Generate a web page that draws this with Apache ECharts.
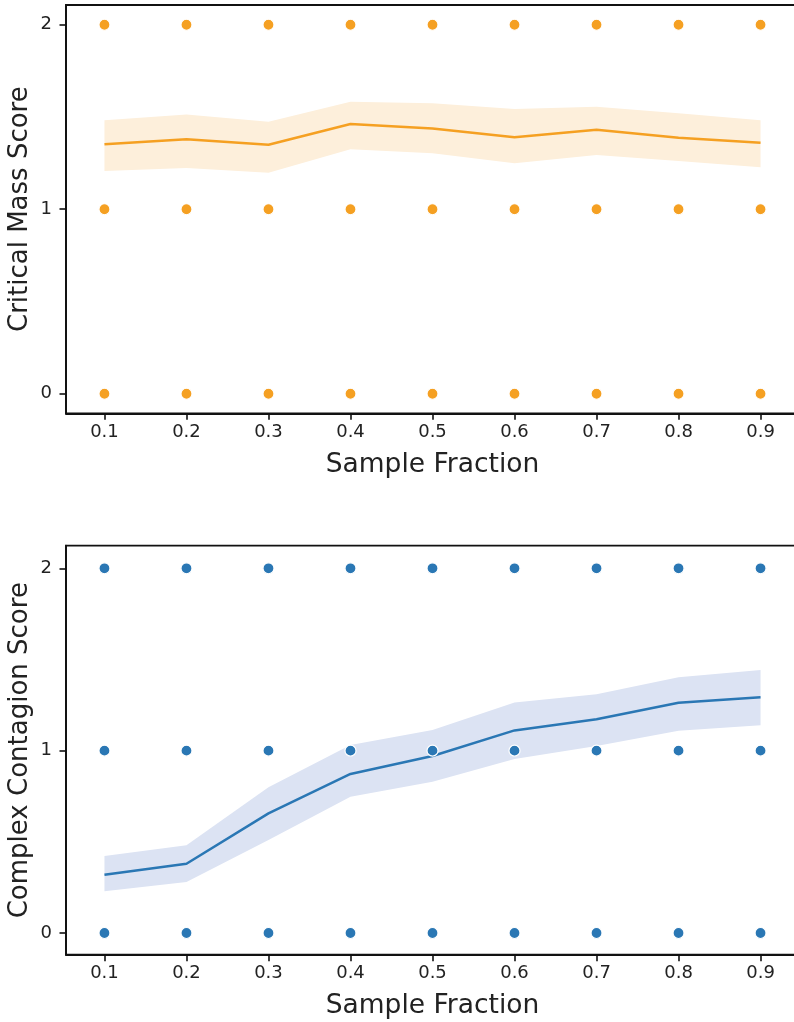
<!DOCTYPE html>
<html>
<head>
<meta charset="utf-8">
<script src="https://cdn.jsdelivr.net/npm/echarts@6/dist/echarts.min.js"></script>
<style>
html,body{margin:0;padding:0;background:#fff;}
#chart{width:794px;height:1022px;}
</style>
</head>
<body>
<div id="chart"></div>
<script>
// ---- data ----
const fractions = [0.1, 0.2, 0.3, 0.4, 0.5, 0.6, 0.7, 0.8, 0.9];
const scoreLevels = [0, 1, 2];          // observed scores at every fraction
const xTicks = [0.1, 0.2, 0.3, 0.4, 0.5, 0.6, 0.7, 0.8, 0.9];
const yTicks = [0, 1, 2];

const critMean = [1.352, 1.380, 1.350, 1.462, 1.438, 1.390, 1.431, 1.388, 1.360];
const critLow  = [1.207, 1.223, 1.198, 1.325, 1.303, 1.249, 1.294, 1.261, 1.227];
const critHigh = [1.483, 1.514, 1.474, 1.583, 1.574, 1.543, 1.556, 1.520, 1.483];

const compMean = [0.320, 0.380, 0.656, 0.872, 0.971, 1.111, 1.172, 1.263, 1.293];
const compLow  = [0.229, 0.280, 0.510, 0.747, 0.830, 0.954, 1.025, 1.109, 1.139];
const compHigh = [0.422, 0.481, 0.799, 1.031, 1.113, 1.264, 1.309, 1.402, 1.442];

// ---- styling ----
const FONT = 'DejaVu Sans';
const TXT = '#222222';
const ORANGE = '#f5a022';
const ORANGE_BAND = '#fdefdb';
const BLUE = '#2a77b4';
const BLUE_BAND = '#dce3f3';

const points = [];
fractions.forEach(f => scoreLevels.forEach(s => points.push([f, s])));

function bandSeries(idx, low, high, color) {
  const data = fractions.map((f, i) => [f, low[i], high[i]]);
  return {
    type: 'custom', xAxisIndex: idx, yAxisIndex: idx, z: 1,
    data: data,
    encode: {x: 0, y: [1, 2]},
    renderItem: function (params, api) {
      if (params.dataIndex !== 0) return null;
      const top = [], bot = [];
      data.forEach(d => {
        top.push(api.coord([d[0], d[2]]));
        bot.push(api.coord([d[0], d[1]]));
      });
      return {
        type: 'polygon',
        shape: {points: top.concat(bot.reverse())},
        style: {fill: color}
      };
    },
    silent: true
  };
}

function xAxis(idx) {
  return {
    type: 'value', gridIndex: idx, min: 0.0531, max: 0.9469,
    splitLine: {show: false},
    axisLine: {show: true, onZero: false, lineStyle: {color: '#111', width: 1.8}},
    axisTick: {show: true, customValues: xTicks, length: 6.5, lineStyle: {color: '#111', width: 1.6}},
    axisLabel: {customValues: xTicks, color: TXT, fontFamily: FONT, fontSize: 18, margin: 10,
      formatter: v => v.toFixed(1)},
    name: 'Sample Fraction', nameLocation: 'middle', nameGap: 38,
    nameTextStyle: {color: TXT, fontFamily: FONT, fontSize: 26.5}
  };
}
function yAxis(idx, min, max, name) {
  return {
    type: 'value', gridIndex: idx, min: min, max: max,
    splitLine: {show: false},
    axisLine: {show: true, onZero: false, lineStyle: {color: '#111', width: 1.8}},
    axisTick: {show: true, customValues: yTicks, length: 6.5, lineStyle: {color: '#111', width: 1.6}},
    axisLabel: {customValues: yTicks, color: TXT, fontFamily: FONT, fontSize: 18, margin: 14},
    name: name, nameLocation: 'middle', nameGap: 33, nameMoveOverlap: false,
    nameTextStyle: {color: TXT, fontFamily: FONT, fontSize: 26}
  };
}

const chart = echarts.init(document.getElementById('chart'), null, {renderer: 'canvas'});
chart.setOption({
  animation: false,
  backgroundColor: '#ffffff',
  grid: [
    {left: 66, top: 5, width: 733, height: 408.3, show: true, borderColor: '#111', borderWidth: 1.8,
      backgroundColor: 'transparent', containLabel: false, outerBoundsMode: 'none'},
    {left: 66, top: 545.7, width: 733, height: 409, show: true, borderColor: '#111', borderWidth: 1.8,
      backgroundColor: 'transparent', containLabel: false, outerBoundsMode: 'none'}
  ],
  xAxis: [xAxis(0), xAxis(1)],
  yAxis: [
    yAxis(0, -0.106, 2.107, 'Critical Mass Score'),
    yAxis(1, -0.119, 2.124, 'Complex Contagion Score')
  ],
  series: [
    bandSeries(0, critLow, critHigh, ORANGE_BAND),
    {type: 'line', xAxisIndex: 0, yAxisIndex: 0, z: 2, symbol: 'none',
      data: fractions.map((f, i) => [f, critMean[i]]),
      lineStyle: {color: ORANGE, width: 2.5}},
    {type: 'scatter', xAxisIndex: 0, yAxisIndex: 0, z: 3, symbolSize: 11,
      data: points, itemStyle: {color: ORANGE, borderColor: '#fff', borderWidth: 1.2, opacity: 1}},
    bandSeries(1, compLow, compHigh, BLUE_BAND),
    {type: 'line', xAxisIndex: 1, yAxisIndex: 1, z: 2, symbol: 'none',
      data: fractions.map((f, i) => [f, compMean[i]]),
      lineStyle: {color: BLUE, width: 2.5}},
    {type: 'scatter', xAxisIndex: 1, yAxisIndex: 1, z: 3, symbolSize: 11,
      data: points, itemStyle: {color: BLUE, borderColor: '#fff', borderWidth: 1.2, opacity: 1}}
  ]
});
</script>
</body>
</html>
